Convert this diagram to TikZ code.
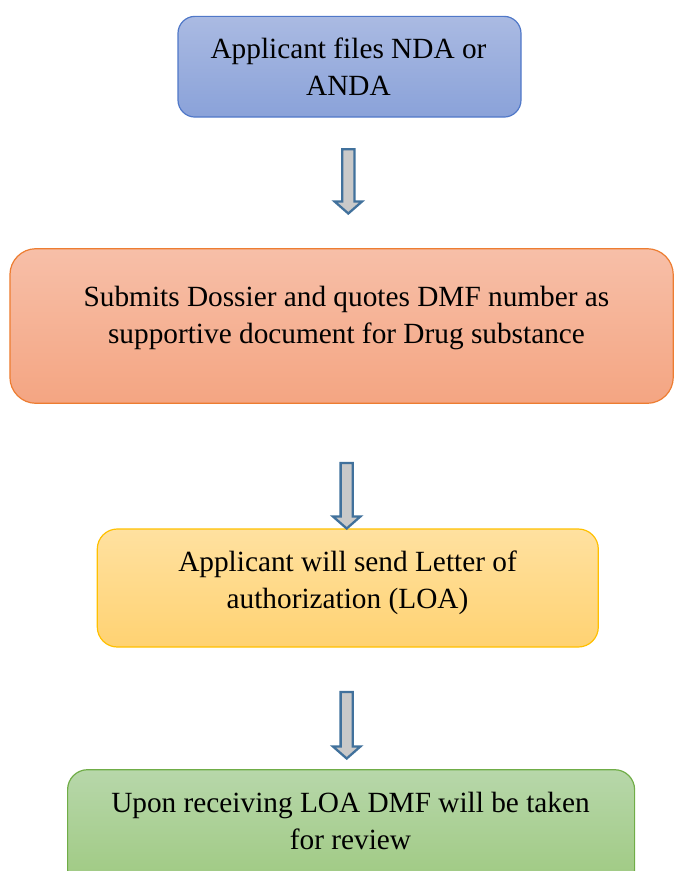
\documentclass[tikz,border=0pt]{standalone}
\usepackage{fontspec}
\setmainfont{Liberation Serif}
\usetikzlibrary{calc}

\definecolor{bluetop}{RGB}{170,186,226}
\definecolor{bluebot}{RGB}{138,162,217}
\definecolor{blueedge}{RGB}{80,120,200}
\definecolor{orangetop}{RGB}{247,191,168}
\definecolor{orangebot}{RGB}{244,165,130}
\definecolor{orangeedge}{RGB}{237,125,49}
\definecolor{yellowtop}{RGB}{255,225,160}
\definecolor{yellowbot}{RGB}{255,210,114}
\definecolor{yellowedge}{RGB}{255,192,0}
\definecolor{greentop}{RGB}{183,215,170}
\definecolor{greenbot}{RGB}{158,201,128}
\definecolor{greenedge}{RGB}{112,173,71}
\definecolor{arrowgrey}{RGB}{201,201,201}
\definecolor{arrowblue}{RGB}{65,113,156}

\tikzset{
  flowbox/.style={draw, line width=1.2pt, rounded corners=#1, inner sep=0pt},
  boxtext/.style={align=center, inner sep=0pt, font=\fontsize{29.3}{37}\selectfont},
  arrowline/.style={draw=arrowblue, fill=arrowgrey, line width=2.3pt, line join=miter},
}

% hollow block arrow from a start coordinate down to its tip
\newcommand\blockarrow[2]{%
  \draw[arrowline] ($(#1)+(-6.1,0)$) -- ($(#2)+(-6.1,-12)$) -- ($(#2)+(-13.7,-12)$)
    -- (#2) -- ($(#2)+(13.7,-12)$) -- ($(#2)+(6.1,-12)$) -- ($(#1)+(6.1,0)$) -- cycle;}

\begin{document}
\begin{tikzpicture}[x=1pt,y=-1pt]
\useasboundingbox (0,0) rectangle (679,871);

% process boxes
\node[flowbox=17pt, draw=blueedge, top color=bluetop, bottom color=bluebot,
      minimum width=343pt, minimum height=100.7pt] (b1) at (349.5,66.7) {};
\node[flowbox=26pt, draw=orangeedge, top color=orangetop, bottom color=orangebot,
      minimum width=663.3pt, minimum height=154.6pt] (b2) at (341.6,326) {};
\node[flowbox=20pt, draw=yellowedge, top color=yellowtop, bottom color=yellowbot,
      minimum width=501pt, minimum height=118pt] (b3) at (347.8,588) {};
\node[flowbox=20pt, draw=greenedge, top color=greentop, bottom color=greenbot,
      minimum width=567pt, minimum height=120pt] (b4) at (351.1,829.7) {};

% box captions
\node[boxtext] (t1) at (348.5,69.1) {\strut Applicant files NDA or\\\strut ANDA};
\node[boxtext] (t2) at (346.5,317.1) {\strut Submits Dossier and quotes DMF number as\\\strut supportive document for Drug substance};
\node[boxtext] (t3) at (347.5,582.1) {\strut Applicant will send Letter of\\\strut authorization (LOA)};
\node[boxtext] (t4) at (350.5,823.1) {\strut Upon receiving LOA DMF will be taken\\\strut for review};

% arrow end points
\coordinate (a1top) at (348.3,149.2);
\coordinate (a1tip) at (348.3,213.5);
\coordinate (a2top) at (346.7,463);
\coordinate (a2tip) at (346.7,528.5);
\coordinate (a3top) at (346.7,692);
\coordinate (a3tip) at (346.7,758.5);

\blockarrow{a1top}{a1tip}
\blockarrow{a2top}{a2tip}
\blockarrow{a3top}{a3tip}
\end{tikzpicture}
\end{document}
